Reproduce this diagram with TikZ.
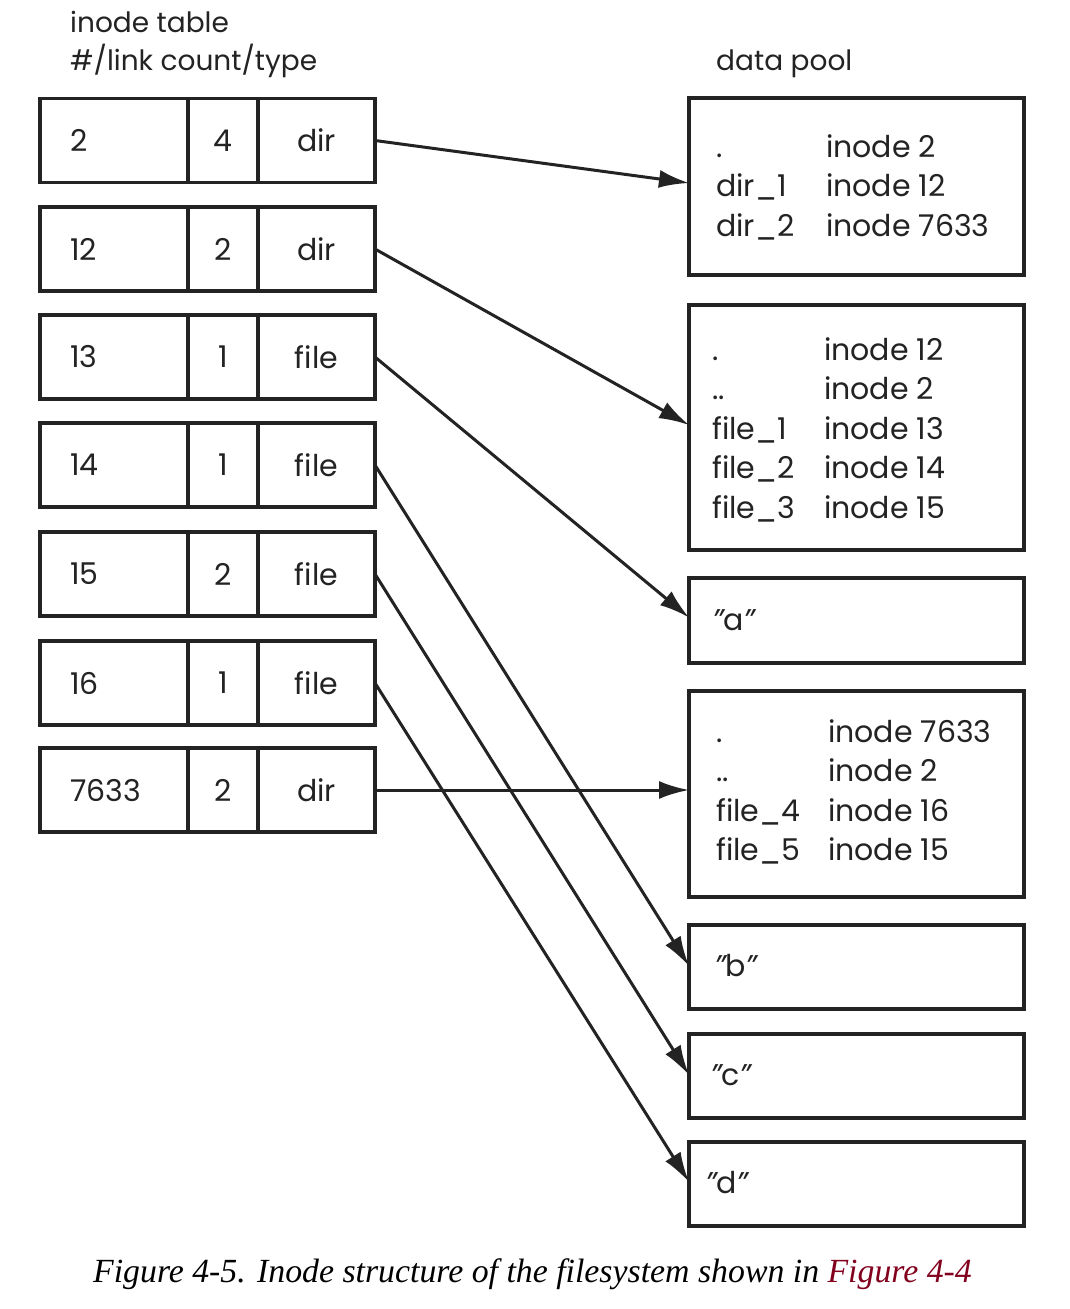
\documentclass[tikz,border=0pt]{standalone}
\usepackage{fontspec}
\setmainfont{Poppins}
\newfontfamily\capfont{Liberation Serif}
\usetikzlibrary{arrows.meta}
\definecolor{capred}{RGB}{130,0,30}
\definecolor{ink}{RGB}{35,35,35}
\begin{document}
\begin{tikzpicture}[x=1pt,y=-1pt,
  every node/.style={text=ink},
  cell/.style={draw=ink, line width=3.5pt, minimum height=84pt, inner sep=0pt, outer sep=0pt,
     font=\fontsize{30}{36}\selectfont},
  numcell/.style={cell, minimum width=148pt, text width=88pt, inner xsep=30pt, align=left},
  cntcell/.style={cell, minimum width=70pt},
  typcell/.style={cell, minimum width=117pt},
  pool/.style={draw=ink, line width=3.5pt, minimum width=335pt, inner sep=0pt, outer sep=0pt},
  pooltxt/.style={anchor=base west, inner sep=0pt, font=\fontsize{30}{39.5}\selectfont},
  hdr/.style={anchor=base west, inner sep=0pt, font=\fontsize{28}{34}\selectfont},
  arr/.style={draw=ink, line width=3pt, -{Latex[length=30pt,width=18pt]}}
]
\useasboundingbox (0,0) rectangle (1069,1309);
\fill[white] (0,0) rectangle (1069,1309);

% headers
\node[hdr] (h1) at (70,32) {inode table};
\node[hdr] (h2) at (70,70) {\#/link count/type};
\node[hdr] (h3) at (716,70) {data pool};

% inode table
\foreach \n/\y/\a/\b/\c in {1/140.5/2/4/dir, 2/249/12/2/dir, 3/357/13/1/file, 4/465/14/1/file,
                            5/574/15/2/file, 6/683/16/1/file, 7/790/7633/2/dir}{
  \node[numcell] (t\n a) at (114,\y) {\a};
  \node[cntcell] (t\n b) at (223,\y) {\b};
  \node[typcell] (t\n c) at (316.5,\y) {\c};
}

% data pool
\node[pool, minimum height=177pt] (p1) at (856.5,186.5) {};
\node[pool, minimum height=245pt] (p2) at (856.5,427.5) {};
\node[pool, minimum height=85pt]  (p3) at (856.5,620.5) {};
\node[pool, minimum height=206pt] (p4) at (856.5,794) {};
\node[pool, minimum height=84pt]  (p5) at (856.5,967) {};
\node[pool, minimum height=84pt]  (p6) at (856.5,1076) {};
\node[pool, minimum height=84pt]  (p7) at (856.5,1184) {};

\node[pooltxt] (x1) at (716,157) {\begin{tabular}[t]{@{}p{110pt}@{}l@{}}
.&inode 2\\ dir\_1&inode 12\\ dir\_2&inode 7633\end{tabular}};
\node[pooltxt] (x2) at (712,360) {\begin{tabular}[t]{@{}p{112pt}@{}l@{}}
.&inode 12\\ ..&inode 2\\ file\_1&inode 13\\ file\_2&inode 14\\ file\_3&inode 15\end{tabular}};
\node[pooltxt] (x3) at (712,630) {{\itshape"}a{\itshape"}};
\node[pooltxt] (x4) at (716,742) {\begin{tabular}[t]{@{}p{112pt}@{}l@{}}
.&inode 7633\\ ..&inode 2\\ file\_4&inode 16\\ file\_5&inode 15\end{tabular}};
\node[pooltxt] (x5) at (714,976) {{\itshape"}b{\itshape"}};
\node[pooltxt] (x6) at (710,1085) {{\itshape"}c{\itshape"}};
\node[pooltxt] (x7) at (705,1193) {{\itshape"}d{\itshape"}};

% connectors
\draw[arr] (t1c.east) -- ([yshift=3.5pt]p1.west);
\draw[arr] (t2c.east) -- ([yshift=2.5pt]p2.west);
\draw[arr] (t3c.east) -- ([yshift=3pt]p3.west);
\draw[arr] (t4c.east) -- ([yshift=1pt]p5.west);
\draw[arr] (t5c.east) -- ([yshift=1pt]p6.west);
\draw[arr] (t6c.east) -- ([yshift=2pt]p7.west);
\draw[arr] (t7c.east) -- ([yshift=4pt]p4.west);

% caption
\node[anchor=base, inner sep=0pt, text=black, font=\capfont\itshape\fontsize{33.8}{40}\selectfont] (cap)
  at (532.5,1282) {Figure 4-5. Inode structure of the filesystem shown in \textcolor{capred}{Figure 4-4}};
\end{tikzpicture}
\end{document}
